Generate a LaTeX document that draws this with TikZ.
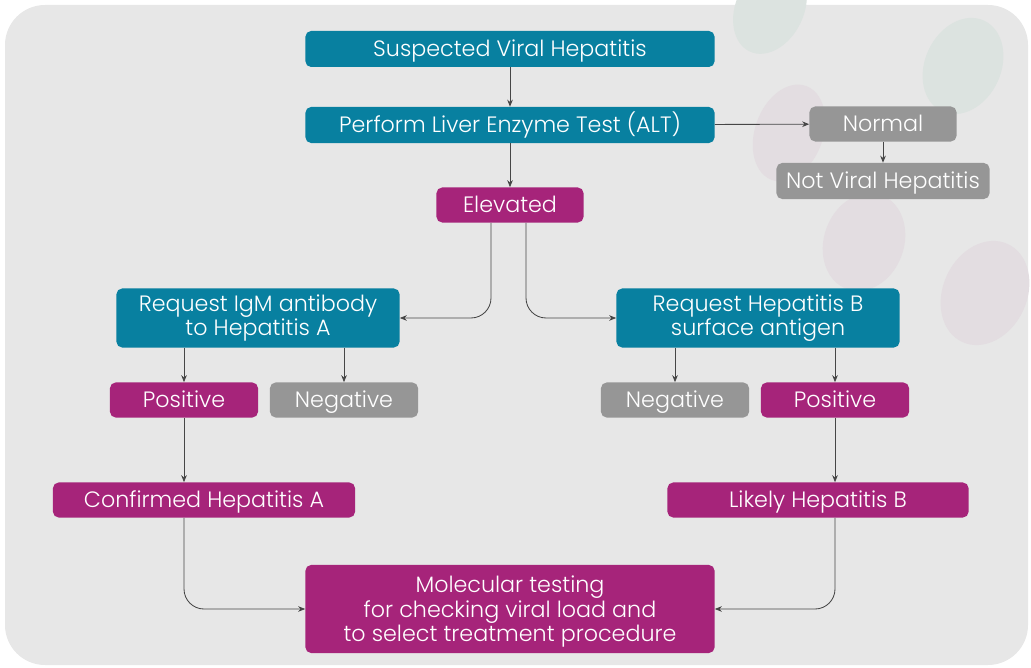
\documentclass[tikz,border=0pt]{standalone}
\usepackage{fontspec}
\setmainfont{Poppins Light}
\usetikzlibrary{arrows.meta, positioning}
\definecolor{hep_teal}{RGB}{8, 128, 160}
\definecolor{hep_magenta}{RGB}{166, 36, 122}
\definecolor{hep_gray}{RGB}{150, 150, 150}
\definecolor{hep_bg}{RGB}{231, 231, 231}
\definecolor{hep_line}{RGB}{70, 70, 70}
\definecolor{blob_green}{RGB}{220, 227, 224}
\definecolor{blob_pink}{RGB}{227, 221, 225}

\begin{document}
\begin{tikzpicture}[
        x=0.025cm, y=-0.025cm,
        box/.style={rectangle, rounded corners=4pt, text=white, inner sep=0pt,
                    align=center, font=\fontsize{15.8}{17.5}\selectfont},
        oneline/.style={text height=1.01em, text depth=0pt},
        testbox/.style={box, fill=hep_teal},
        posbox/.style={box, fill=hep_magenta},
        negbox/.style={box, fill=hep_gray},
        flow/.style={-{Stealth[length=5pt, width=4pt]}, hep_line, line width=0.6pt},
        elbow/.style={flow, rounded corners=0.5cm},
      ]
        \useasboundingbox (0,0) rectangle (1031,668);
        \fill[hep_bg, rounded corners=1cm] (5,5) rectangle (1028,665);

        % faint blobs, upper right
        \fill[blob_green] (770,8)   ellipse [x radius=0.85cm, y radius=1.2cm, rotate=-25];
        \fill[blob_green] (963,66)  ellipse [x radius=0.95cm, y radius=1.25cm, rotate=-25];
        \fill[blob_pink]  (789,133) ellipse [x radius=0.85cm, y radius=1.25cm, rotate=-20];
        \fill[blob_pink]  (864,242) ellipse [x radius=1cm, y radius=1.25cm, rotate=-20];
        \fill[blob_pink]  (985,293) ellipse [x radius=1.05cm, y radius=1.35cm, rotate=-25];

        \node[testbox, oneline, minimum width=10.225cm, minimum height=0.9cm] (susp) at (510,49)
          {Suspected Viral Hepatitis};
        \node[testbox, oneline, minimum width=10.225cm, minimum height=0.9cm] (alt) at (510,125)
          {Perform Liver Enzyme Test (ALT)};
        \node[negbox, oneline, minimum width=3.675cm, minimum height=0.875cm] (normal) at (883,124)
          {Normal};
        \node[negbox, oneline, minimum width=5.325cm, minimum height=0.9cm] (notviral) at (883,181)
          {Not Viral Hepatitis};
        \node[posbox, oneline, minimum width=3.675cm, minimum height=0.875cm] (elev) at (510,205)
          {Elevated};

        \node[testbox, minimum width=7.075cm, minimum height=1.475cm] (reqA) at (258,318)
          {Request IgM antibody\\to Hepatitis A};
        \node[testbox, minimum width=7.075cm, minimum height=1.475cm] (reqB) at (758,318)
          {Request Hepatitis B\\surface antigen};

        \node[posbox, oneline, minimum width=3.7cm, minimum height=0.875cm] (posA) at (184,400) {Positive};
        \node[negbox, oneline, minimum width=3.7cm, minimum height=0.875cm] (negA) at (344,400) {Negative};
        \node[negbox, oneline, minimum width=3.7cm, minimum height=0.875cm] (negB) at (675,400) {Negative};
        \node[posbox, oneline, minimum width=3.7cm, minimum height=0.875cm] (posB) at (835,400) {Positive};

        \node[posbox, oneline, minimum width=7.55cm, minimum height=0.875cm] (confA) at (204,500)
          {Confirmed Hepatitis A};
        \node[posbox, oneline, minimum width=7.525cm, minimum height=0.875cm] (likelyB) at (818,500)
          {Likely Hepatitis B};

        \node[posbox, minimum width=10.225cm, minimum height=2.2cm] (mol) at (510,609)
          {\raisebox{-2.2pt}[\height][\depth]{\begin{tabular}{@{}c@{}}Molecular testing\\
           for checking viral load and\\to select treatment procedure\end{tabular}}};

        \draw[flow] (susp) -- (alt);
        \draw[flow] (alt) -- (normal);
        \draw[flow] (normal) -- (notviral);
        \draw[flow] (alt) -- (elev);

        \draw[elbow] ([xshift=-0.475cm]elev.south) |- (reqA.east);
        \draw[elbow] ([xshift=0.4cm]elev.south) |- (reqB.west);

        \draw[flow] (posA.north |- reqA.south) -- (posA);
        \draw[flow] (negA.north |- reqA.south) -- (negA);
        \draw[flow] (negB.north |- reqB.south) -- (negB);
        \draw[flow] (posB.north |- reqB.south) -- (posB);

        \draw[flow] (posA) -- (posA.south |- confA.north);
        \draw[flow] (posB) -- (posB.south |- likelyB.north);

        \draw[elbow] (posA.south |- confA.south) |- (mol.west);
        \draw[elbow] (posB.south |- likelyB.south) |- (mol.east);
      \end{tikzpicture}
\end{document}
